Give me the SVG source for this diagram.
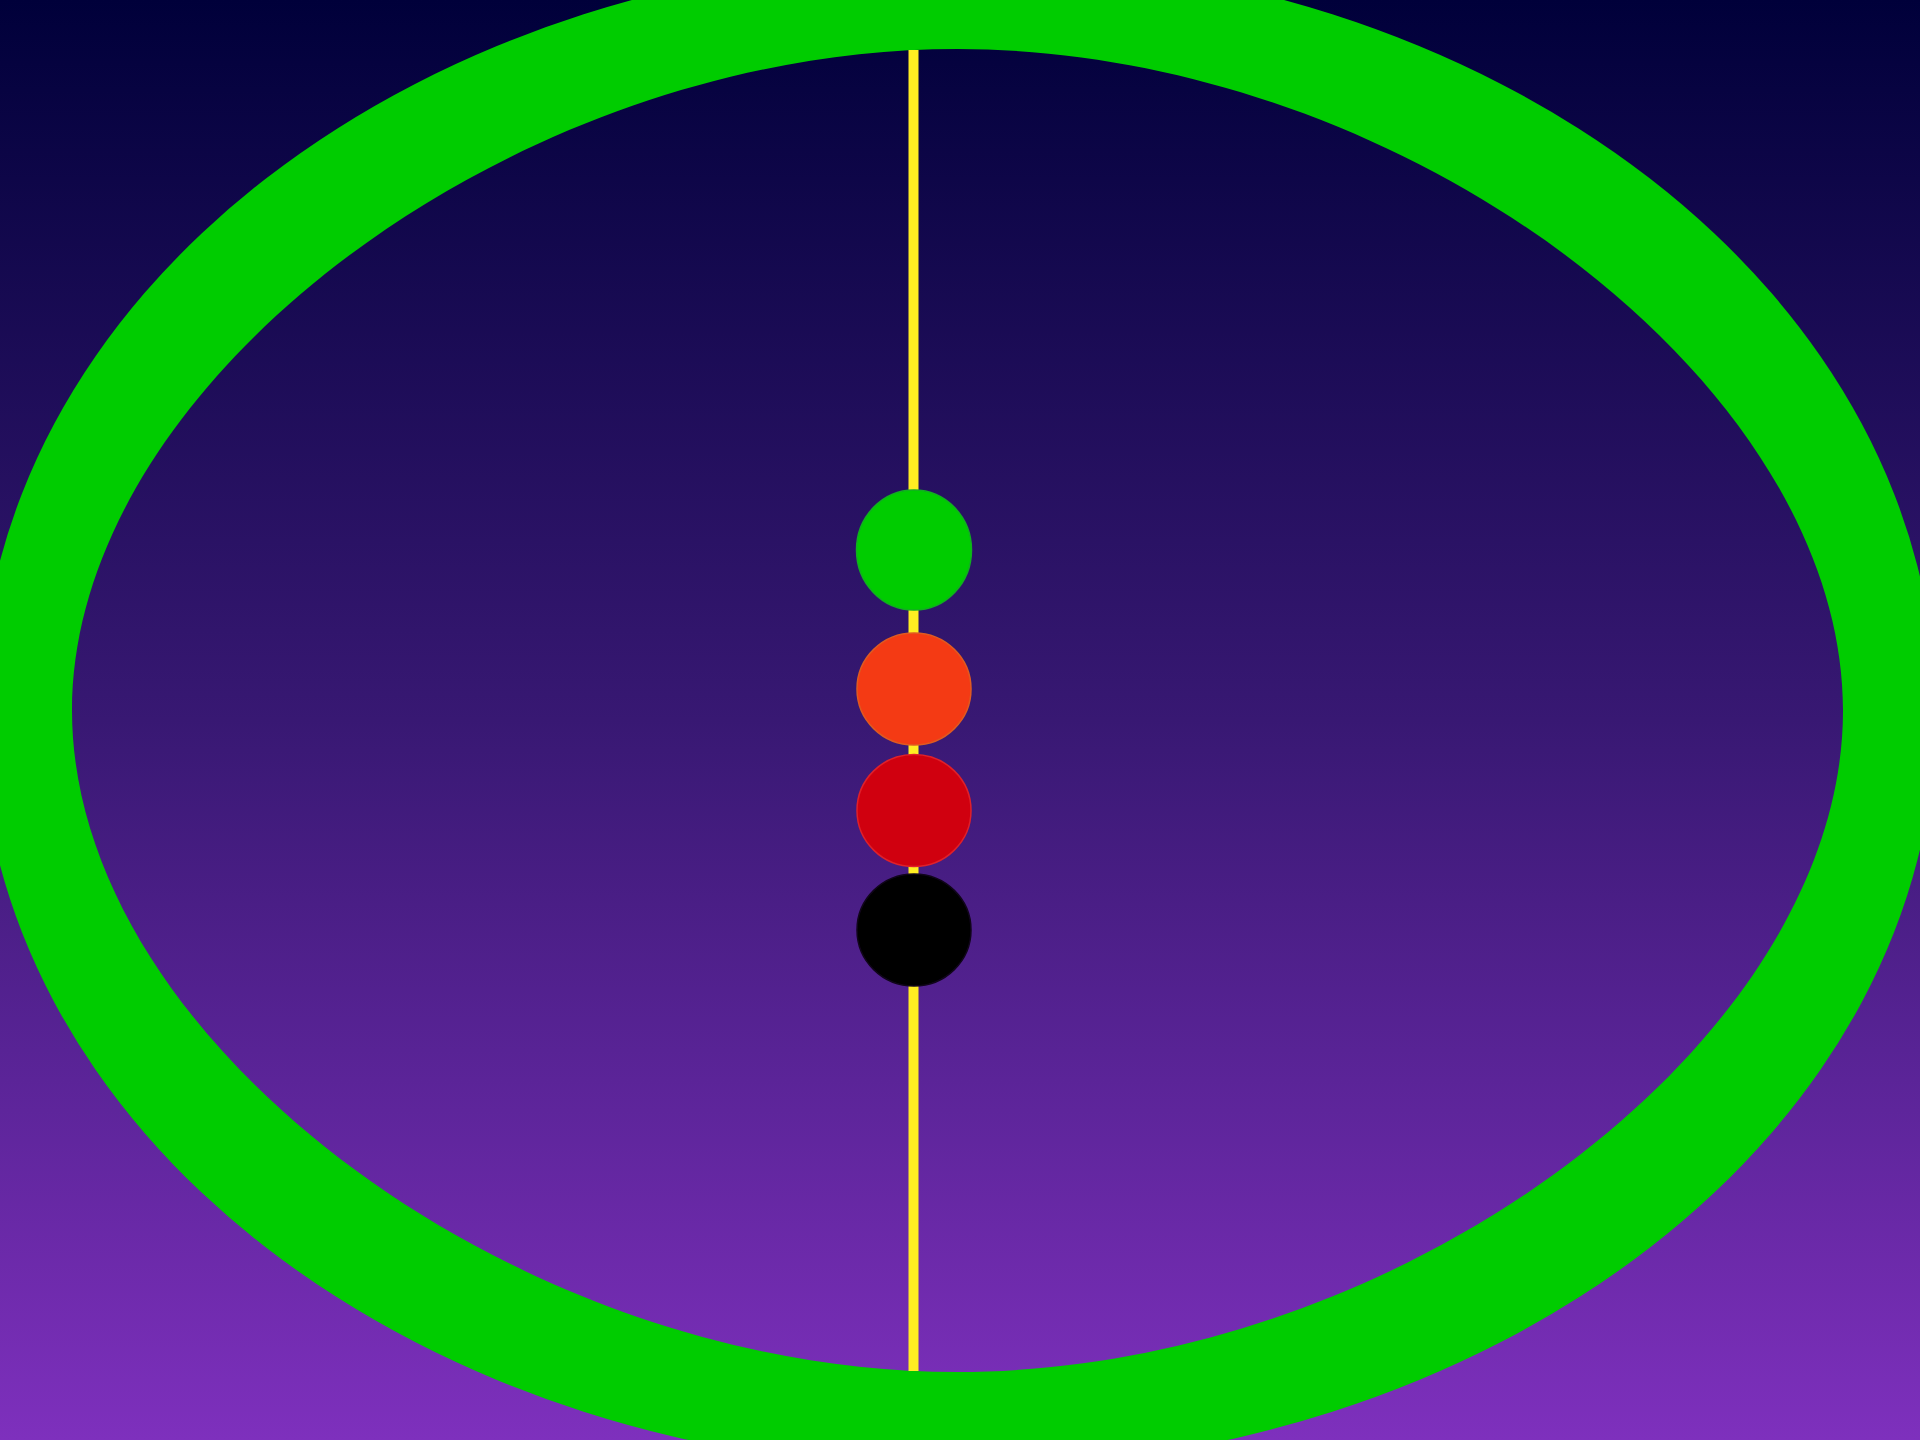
<svg xmlns="http://www.w3.org/2000/svg" width="1920" height="1440" viewBox="0 0 1920 1440">
  <defs>
    <linearGradient id="bg" x1="0" y1="0" x2="0" y2="1">
      <stop offset="0" stop-color="#00003a"/>
      <stop offset="0.5" stop-color="#381873"/>
      <stop offset="1" stop-color="#7e30bd"/>
    </linearGradient>
    <style>
      .ring { fill: #00cc00; fill-rule: evenodd; }
      .axis { stroke: #ffee22; stroke-width: 10; fill: none; }
      .bead { stroke-width: 1.5; }
    </style>
  </defs>
  <rect width="1920" height="1440" fill="url(#bg)"/>
  <g id="ring">
    <path class="ring" d="M -20 713 A 978 756 0 1 0 1936 713 A 978 756 0 1 0 -20 713 Z M 1843 710.5 C 1843 1041.25 1400.25 1372 957.5 1372 C 514.75 1372 72 1041.25 72 710.5 C 72 379.75 514.75 49 957.5 49 C 1400.25 49 1843 379.75 1843 710.5 Z"/>
  </g>
  <g id="connectors">
    <line class="axis" x1="913.5" y1="50" x2="913.5" y2="1371"/>
  </g>
  <g id="bead-green">
    <ellipse class="bead" cx="914" cy="550" rx="57.5" ry="60" fill="#00cc00" stroke="#11b020"/>
  </g>
  <g id="bead-orange">
    <ellipse class="bead" cx="914" cy="689" rx="57" ry="56" fill="#f43a14" stroke="#e05a20"/>
  </g>
  <g id="bead-red">
    <ellipse class="bead" cx="914" cy="810.5" rx="57" ry="56" fill="#d0000f" stroke="#e0202a"/>
  </g>
  <g id="bead-black">
    <ellipse class="bead" cx="914" cy="930" rx="57" ry="56" fill="#000000" stroke="#10051a"/>
  </g>
</svg>
